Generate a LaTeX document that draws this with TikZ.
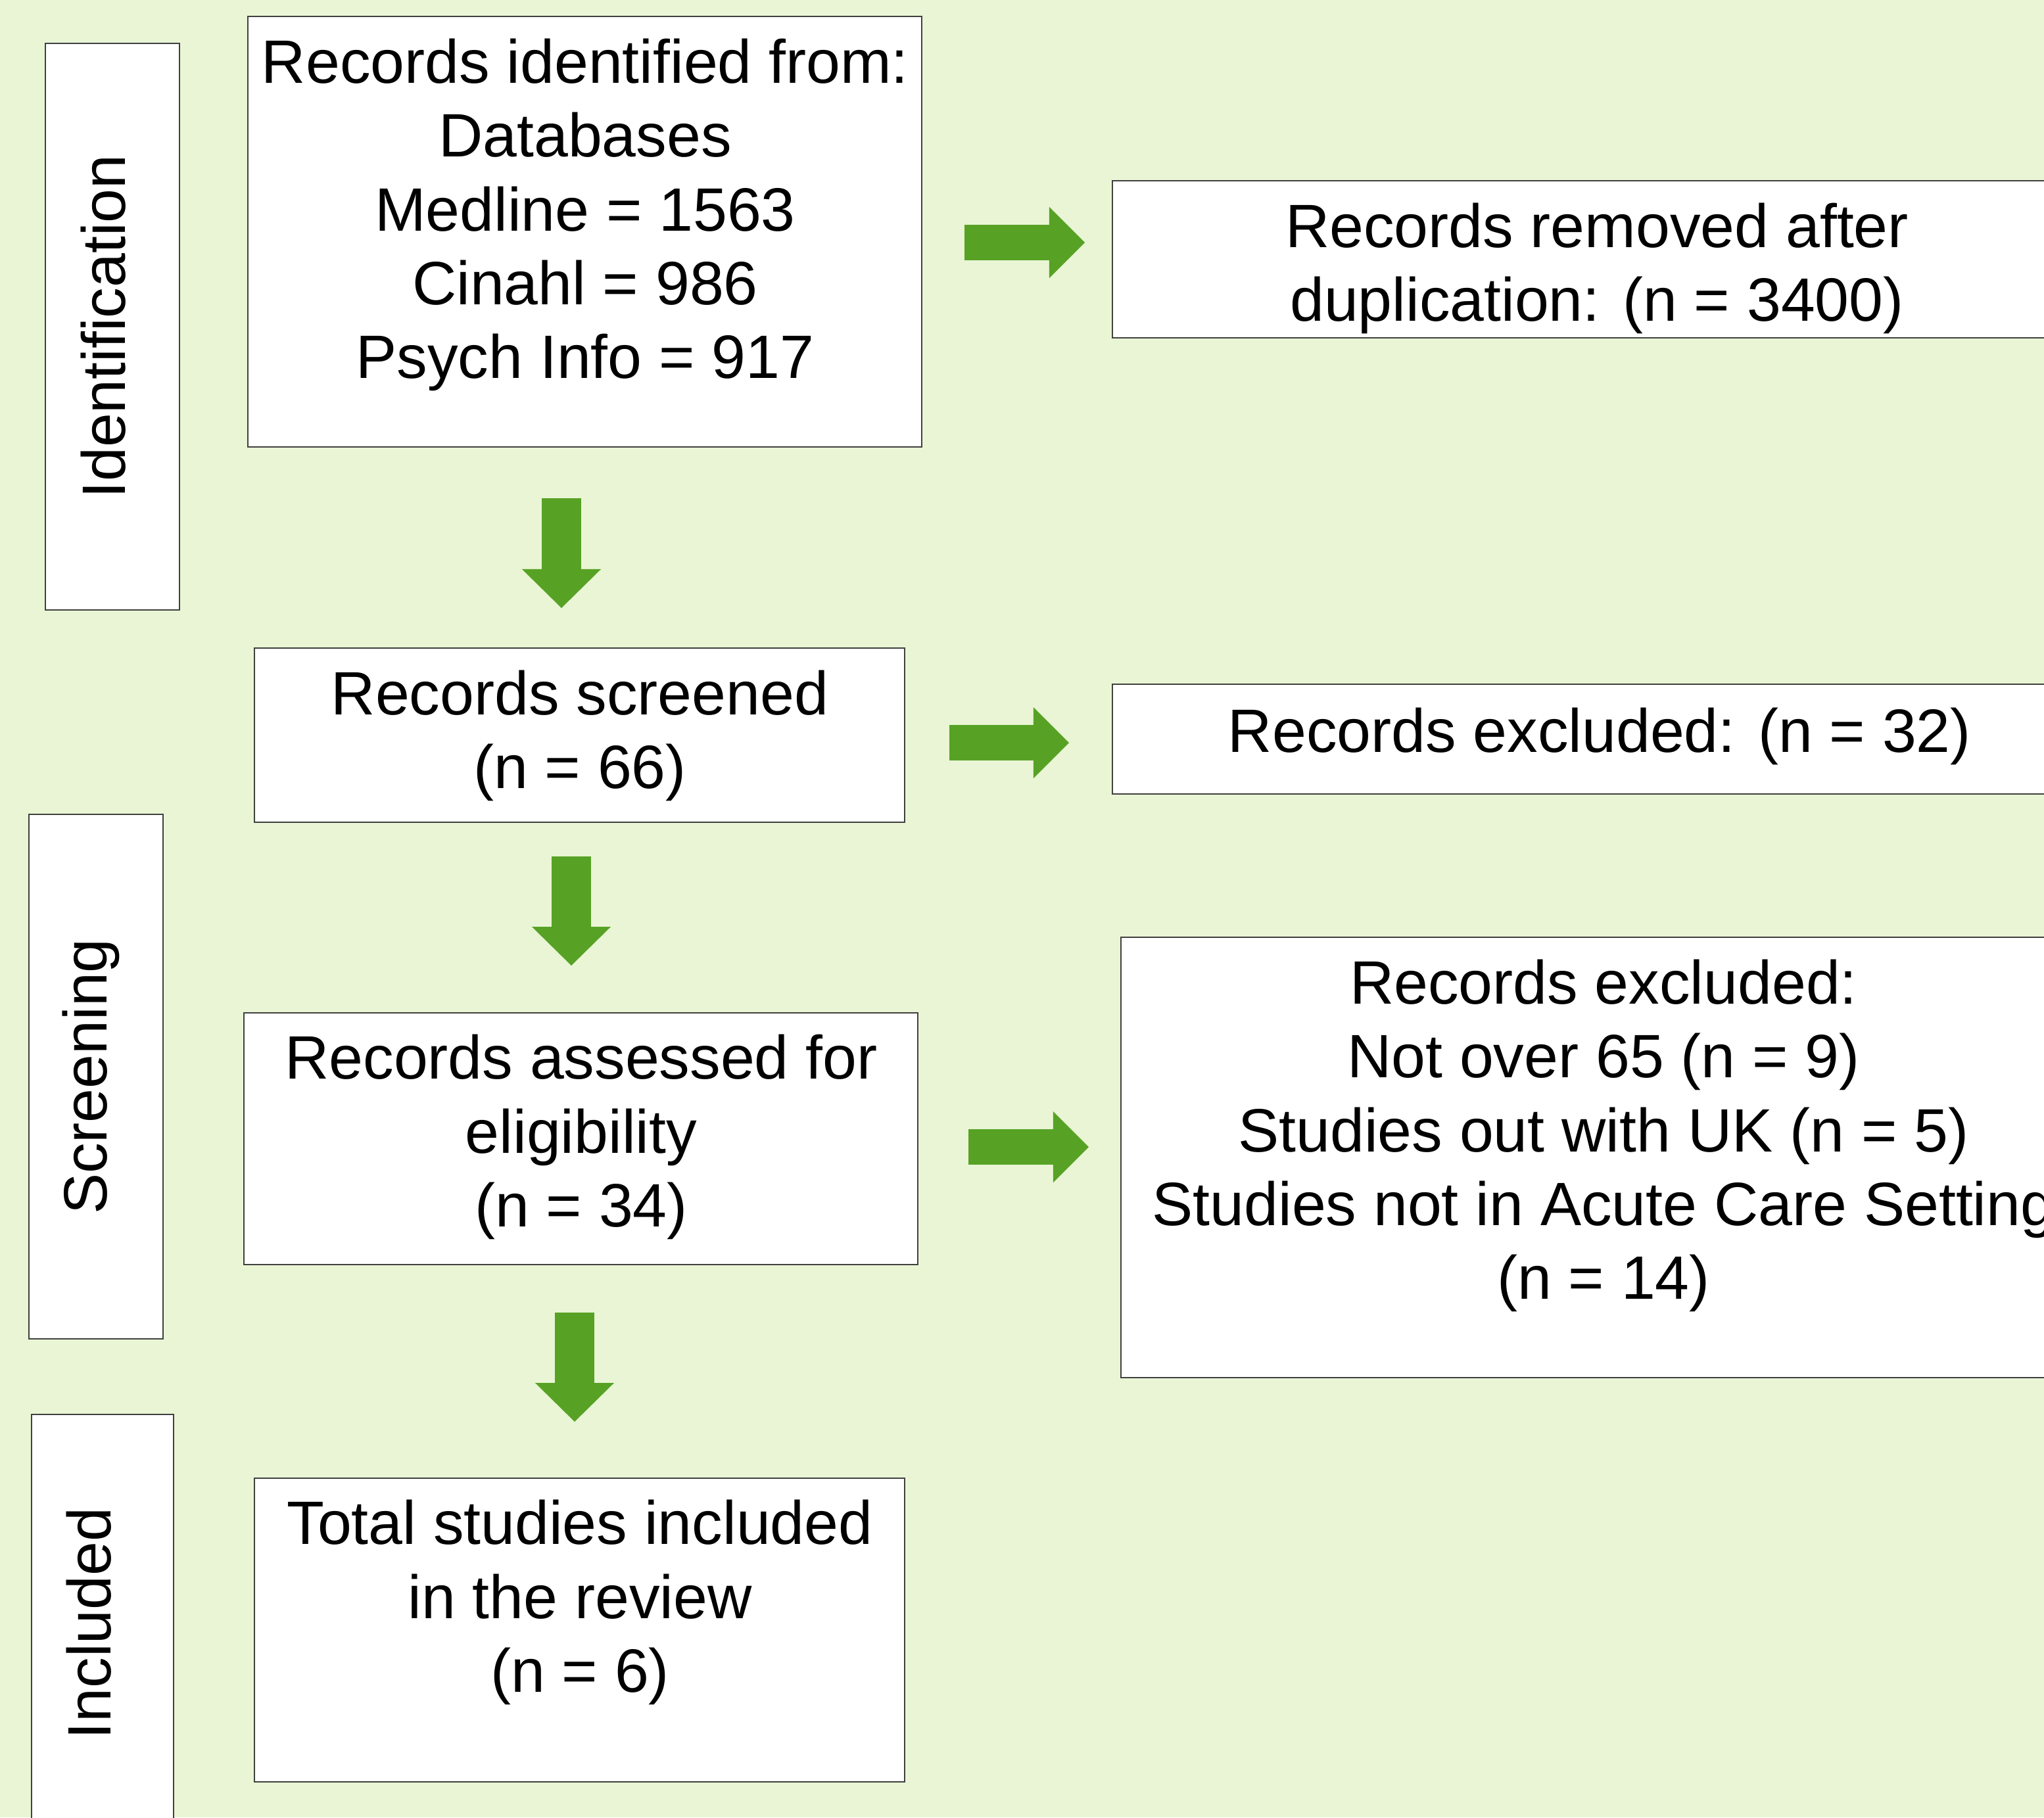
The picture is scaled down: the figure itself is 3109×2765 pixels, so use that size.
\documentclass[tikz,border=0pt]{standalone}
\usepackage{fontspec}
\setmainfont{Liberation Sans}
\usetikzlibrary{arrows.meta,fit}
\definecolor{bgc}{RGB}{233,245,212}
\definecolor{arrc}{RGB}{87,162,37}
\definecolor{bordc}{RGB}{64,64,64}
\begin{document}
\begin{tikzpicture}[x=0.01cm,y=-0.01cm,
  box/.style={draw=bordc, line width=0.02cm, fill=white, inner sep=0pt},
  txt/.style={font=\fontsize{26.5}{31.9}\selectfont, align=center, inner sep=0pt},
  side/.style={txt, rotate=90},
  rarr/.style={draw=arrc, line width=0.54cm, -{Triangle[length=0.54cm,width=1.08cm,line width=0pt]}},
  darr/.style={draw=arrc, line width=0.60cm, -{Triangle[length=0.59cm,width=1.20cm,line width=0pt]}}]
\useasboundingbox (0,0) rectangle (3109,2765);
\clip (0,0) rectangle (3109,2765);
\fill[bgc] (0,0) rectangle (3109,2765);

% side boxes
\node[box, fit={(69,66) (273,928)}] (idside) {};
\node[box, fit={(44,1239) (248,2037)}] (scside) {};
\node[box, fit={(48,2152) (264,2900)}] (incside) {};
\node[side] (idlab) at (157,497) {Identification};
\node[side] (sclab) at (138,1638) {Screening};
\node[side] (inclab) at (135,2470) {Included};

% main boxes
\node[box, fit={(377,25) (1402,680)}] (b1) {};
\node[box, fit={(387,986) (1376,1251)}] (b2) {};
\node[box, fit={(371,1541) (1396,1924)}] (b3) {};
\node[box, fit={(387,2249) (1376,2711)}] (b4) {};
\node[box, fit={(1692,275) (3200,514)}] (e1) {};
\node[box, fit={(1692,1041) (3200,1208)}] (e2) {};
\node[box, fit={(1705,1426) (3200,2096)}] (e3) {};

% texts
\node[txt] (t1) at (890,327) {Records identified from:\\Databases\\Medline = 1563\\Cinahl = 986\\Psych Info = 917};
\node[txt] (t2) at (882,1119) {Records screened\\(n = 66)};
\node[txt] (t3) at (884,1730) {Records assessed for\\eligibility\\(n = 34)};
\node[txt] (t4) at (882,2438) {Total studies included\\in the review\\(n = 6)};
\node[txt] (u1) at (2429,408) {Records removed after\\duplication: (n = 3400)};
\node[txt] (u2) at (2433,1120) {Records excluded: (n = 32)};
\node[txt] (u3) at (2439,1728) {Records excluded:\\Not over 65 (n = 9)\\Studies out with UK (n = 5)\\Studies not in Acute Care Setting\\(n = 14)};

% arrows
\coordinate (r1s) at (1467,369); \coordinate (r1e) at (1650,369);
\coordinate (r2s) at (1444,1130); \coordinate (r2e) at (1626,1130);
\coordinate (r3s) at (1473,1745); \coordinate (r3e) at (1656,1745);
\coordinate (d1s) at (854,758); \coordinate (d1e) at (854,925);
\coordinate (d2s) at (869,1303); \coordinate (d2e) at (869,1469);
\coordinate (d3s) at (874,1997); \coordinate (d3e) at (874,2163);
\draw[rarr] (r1s) -- (r1e);
\draw[rarr] (r2s) -- (r2e);
\draw[rarr] (r3s) -- (r3e);
\draw[darr] (d1s) -- (d1e);
\draw[darr] (d2s) -- (d2e);
\draw[darr] (d3s) -- (d3e);
\end{tikzpicture}
\end{document}
